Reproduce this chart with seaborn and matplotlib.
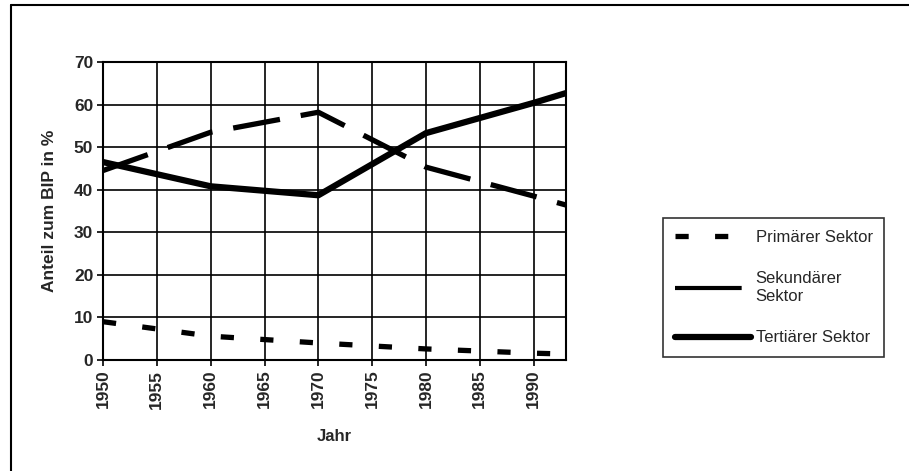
import numpy as np
import matplotlib.pyplot as plt
import matplotlib.lines as mlines
import seaborn as sns
import pandas as pd

sns.set_style('white')
plt.rcParams['font.family'] = ['Liberation Sans', 'DejaVu Sans']

jahre = [1950, 1960, 1970, 1980, 1990, 1993]
primaer = [9.0, 5.6, 4.0, 2.6, 1.6, 1.4]
sekundaer = [44.5, 53.5, 58.2, 45.3, 38.5, 36.4]
tertiaer = [46.5, 40.8, 38.7, 53.3, 60.4, 62.7]

sektoren = ['Primärer Sektor', 'Sekundärer\nSektor', 'Tertiärer Sektor']
x_ticks = list(range(1950, 1995, 5))
y_ticks = list(range(0, 80, 10))

df = pd.DataFrame({
    'Jahr': jahre * 3,
    'Anteil': primaer + sekundaer + tertiaer,
    'Sektor': [s for s in sektoren for _ in jahre],
})

fig = plt.figure(figsize=(9.09, 4.71), dpi=100)
ax = fig.add_axes([103 / 909, 1 - 360 / 471, 463 / 909, 298 / 471])

sns.lineplot(data=df, x='Jahr', y='Anteil', hue='Sektor', style='Sektor', size='Sektor',
             palette=['black'] * 3,
             dashes={sektoren[0]: (2.5, 5), sektoren[1]: (9, 4), sektoren[2]: ''},
             sizes={sektoren[0]: 3.8, sektoren[1]: 3.8, sektoren[2]: 4.5},
             legend=False, ax=ax)

ax.set_xlim(1950, 1993)
ax.set_ylim(0, 70)
ax.set_xticks(x_ticks)
ax.set_yticks(y_ticks)
ax.set_xticklabels(x_ticks, rotation=90, fontsize=12.5, fontweight='bold')
ax.set_yticklabels(y_ticks, fontsize=12.5, fontweight='bold')
ax.tick_params(axis='both', direction='out', length=4, width=1.2, color='black',
               bottom=True, left=True, pad=3)
ax.grid(True, color='black', linewidth=1.2)
ax.set_axisbelow(True)
for sp in ax.spines.values():
    sp.set_visible(True)
    sp.set_color('black')
    sp.set_linewidth(1.5)

ax.set_xlabel('Jahr', fontsize=12, fontweight='bold', labelpad=15)
ax.set_ylabel('Anteil zum BIP in %', fontsize=12.5, fontweight='bold', labelpad=12)

handles = [
    mlines.Line2D([], [], color='black', lw=3.8, dashes=(2.5, 5)),
    mlines.Line2D([], [], color='black', lw=3.0, dashes=(16, 20)),
    mlines.Line2D([], [], color='black', lw=4.5),
]
leg = ax.legend(handles, sektoren, loc='upper left',
                bbox_to_anchor=(663 / 909, 1 - 218 / 471), bbox_transform=fig.transFigure,
                fontsize=12, frameon=True, fancybox=False, edgecolor='black',
                handlelength=4.6, handletextpad=0.25, labelspacing=1.6,
                borderpad=0.7, borderaxespad=0)
leg.get_frame().set_linewidth(1.2)

# outer frame (left and top visible)
fig.add_artist(mlines.Line2D([11 / 909, 11 / 909], [0, 1 - 5 / 471], color='black', lw=1.5,
                            transform=fig.transFigure))
fig.add_artist(mlines.Line2D([11 / 909, 1], [1 - 5 / 471, 1 - 5 / 471], color='black', lw=1.5,
                            transform=fig.transFigure))

plt.savefig('out.png', dpi=100)
